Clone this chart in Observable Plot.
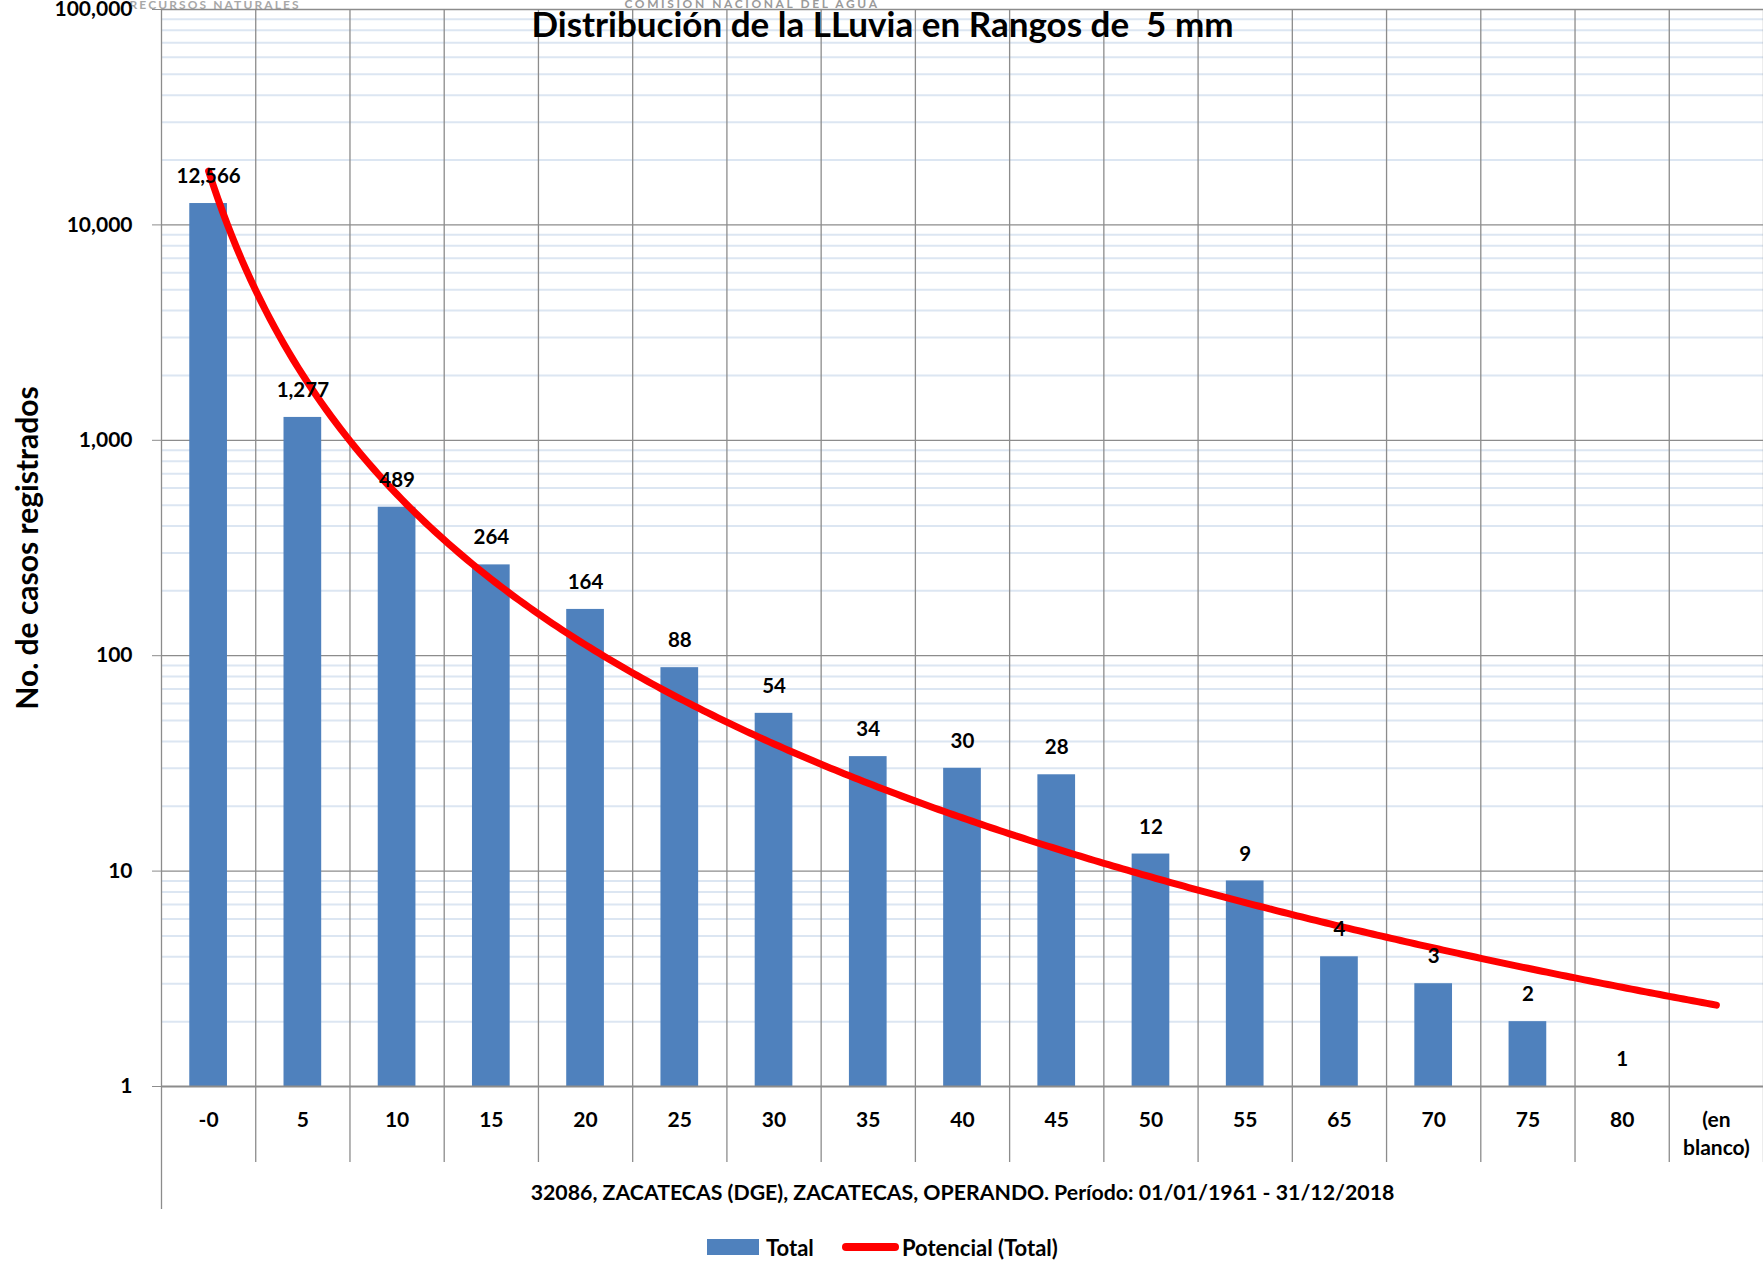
<!DOCTYPE html>
<html>
<head>
<meta charset="utf-8">
<script src="https://cdn.jsdelivr.net/npm/d3@7"></script>
<script src="https://cdn.jsdelivr.net/npm/@observablehq/plot@0.6"></script>
<style>
  html, body { margin: 0; padding: 0; background: #fff; }
  #wrap { position: relative; width: 1763px; height: 1261px; overflow: hidden; font-family: Lato, "Open Sans", sans-serif; }
  #wrap svg { position: absolute; left: 0; top: 0; font-family: Lato, "Open Sans", sans-serif; }
  .legend { position: absolute; top: 1231px; height: 32px; display: flex; align-items: center; font-weight: bold; font-size: 22px; color: #000; white-space: nowrap; }
  .sw-bar { display: inline-block; width: 52px; height: 16px; background: #4f81bd; margin-right: 7px; }
  .sw-line { display: inline-block; width: 57px; height: 8px; border-radius: 4px; background: #ff0000; margin-right: 3px; }
</style>
</head>
<body>
<div id="wrap"></div>
<script>
// ---- data ----
const categories = ["-0", "5", "10", "15", "20", "25", "30", "35", "40", "45", "50", "55", "65", "70", "75", "80", "(en blanco)"];
const totals = [12566, 1277, 489, 264, 164, 88, 54, 34, 30, 28, 12, 9, 4, 3, 2, 1, null];
const yTicks = [1, 10, 100, 1000, 10000, 100000];
const titleText = "Distribución de la LLuvia en Rangos de  5 mm";
const yLabelText = "No. de casos registrados";
const captionText = "32086, ZACATECAS (DGE), ZACATECAS, OPERANDO. Período: 01/01/1961 - 31/12/2018";
const seriesName = "Total";
const trendName = "Potencial (Total)";
const logoLeftText = "RECURSOS NATURALES";
const logoRightText = "COMISION NACIONAL DEL AGUA";

// ---- derived tables ----
const rows = categories.map((c, k) => ({i: k + 1, cat: c, v: totals[k]}));
const bars = rows.filter(d => d.v != null);

// Excel-style power trendline (least squares on ln x, ln y)
const lx = bars.map(d => Math.log(d.i)), ly = bars.map(d => Math.log(d.v));
const mx = d3.mean(lx), my = d3.mean(ly);
const b = d3.sum(lx, (v, k) => (v - mx) * (ly[k] - my)) / d3.sum(lx, v => (v - mx) ** 2);
const a = Math.exp(my - b * mx);
const trend = d3.range(1, categories.length + 0.0001, 0.05).map(x => ({x, y: a * Math.pow(x, b)}));

// minor gridlines 2..9 within each decade
const minor = yTicks.slice(0, -1).flatMap(d => d3.range(2, 10).map(k => d * k));
const bounds = d3.range(0.5, categories.length + 1, 1);

// ---- layout ----
const W = 1763, H = 1261;
const mLeft = 161, mRight = 0, mTop = 9, mBottom = 175;
const decadePx = (H - mBottom - mTop) / Math.log10(yTicks[yTicks.length - 1] / yTicks[0]);
const below = px => 10 ** (-px / decadePx); // data value px pixels below the "1" axis
const half = 0.2;
const grid = "#8c8c8c";

const plot = Plot.plot({
  width: W, height: H,
  marginLeft: mLeft, marginRight: mRight, marginTop: mTop, marginBottom: mBottom,
  style: {fontFamily: "Lato, 'Open Sans', sans-serif", background: "transparent", overflow: "visible"},
  x: {type: "linear", domain: [0.5, categories.length + 0.5], axis: null},
  y: {type: "log", domain: [1, 100000], axis: null},
  marks: [
    // decorative logo texts
    Plot.text([logoLeftText], {frameAnchor: "top-left", dx: -32, dy: -4, text: d => d, fill: "#a8a8a8", fontSize: 12, fontWeight: "bold", textAnchor: "start", lineAnchor: "middle"}),
    Plot.text([logoRightText], {frameAnchor: "top-left", dx: 463, dy: -5, text: d => d, fill: "#9a9a9a", fontSize: 12, fontWeight: "bold", textAnchor: "start", lineAnchor: "middle"}),
    Plot.ruleY(minor, {stroke: "#dce6f2", strokeWidth: 2}),
    Plot.ruleY(yTicks.slice(1), {stroke: grid, strokeWidth: 1.3}),
    Plot.ruleX(bounds.slice(1), {y1: 100000, y2: below(76), stroke: grid, strokeWidth: 1.3}),
    Plot.ruleX(bounds.slice(0, 1), {y1: 100000, y2: below(123), stroke: grid, strokeWidth: 1.3}),
    Plot.rectY(bars, {x1: d => d.i - half, x2: d => d.i + half, y1: 1, y2: "v", fill: "#4f81bd"}),
    Plot.ruleY([1], {stroke: grid, strokeWidth: 2.2}),
    Plot.axisY(yTicks, {tickFormat: d3.format(","), tickSize: 9, tickPadding: 20, fontSize: 21, fontWeight: "bold", stroke: grid, fill: "#000", label: null}),
    Plot.line(trend, {x: "x", y: "y", stroke: "#ff0000", strokeWidth: 7, strokeLinecap: "round", strokeLinejoin: "round"}),
    Plot.text(bars, {x: "i", y: "v", text: d => d3.format(",")(d.v), dy: -27, fontSize: 20.5, fontWeight: "bold", fill: "#000", lineAnchor: "middle"}),
    Plot.text(rows, {x: "i", frameAnchor: "bottom", text: "cat", dy: 20, lineAnchor: "top", lineWidth: 4.2, lineHeight: 1.35, fontSize: 21, fontWeight: "bold", fill: "#000"}),
    Plot.text([titleText], {frameAnchor: "top", text: d => d, dx: -80, dy: 16, fontSize: 35, fontWeight: "bold", fill: "#000", textAnchor: "middle", lineAnchor: "middle"}),
    Plot.text([yLabelText], {frameAnchor: "left", text: d => d, dx: -133, rotate: -90, fontSize: 30, fontWeight: "bold", fill: "#000", textAnchor: "middle", lineAnchor: "middle"}),
    Plot.text([captionText], {frameAnchor: "bottom", text: d => d, dy: 107, fontSize: 21.3, fontWeight: "bold", fill: "#000", textAnchor: "middle", lineAnchor: "middle"})
  ]
});

const wrap = document.getElementById("wrap");
wrap.appendChild(plot);

// letter-spaced logo lettering
d3.select(plot).selectAll("text").each(function () {
  if (this.textContent === logoLeftText) this.style.letterSpacing = "2.1px";
  if (this.textContent === logoRightText) this.style.letterSpacing = "2.6px";
});

// legend
const leg1 = document.createElement("div");
leg1.className = "legend";
leg1.style.left = "707px";
leg1.innerHTML = `<span class="sw-bar"></span><span>${seriesName}</span>`;
wrap.appendChild(leg1);
const leg2 = document.createElement("div");
leg2.className = "legend";
leg2.style.left = "842px";
leg2.innerHTML = `<span class="sw-line"></span><span>${trendName}</span>`;
wrap.appendChild(leg2);
</script>
</body>
</html>
